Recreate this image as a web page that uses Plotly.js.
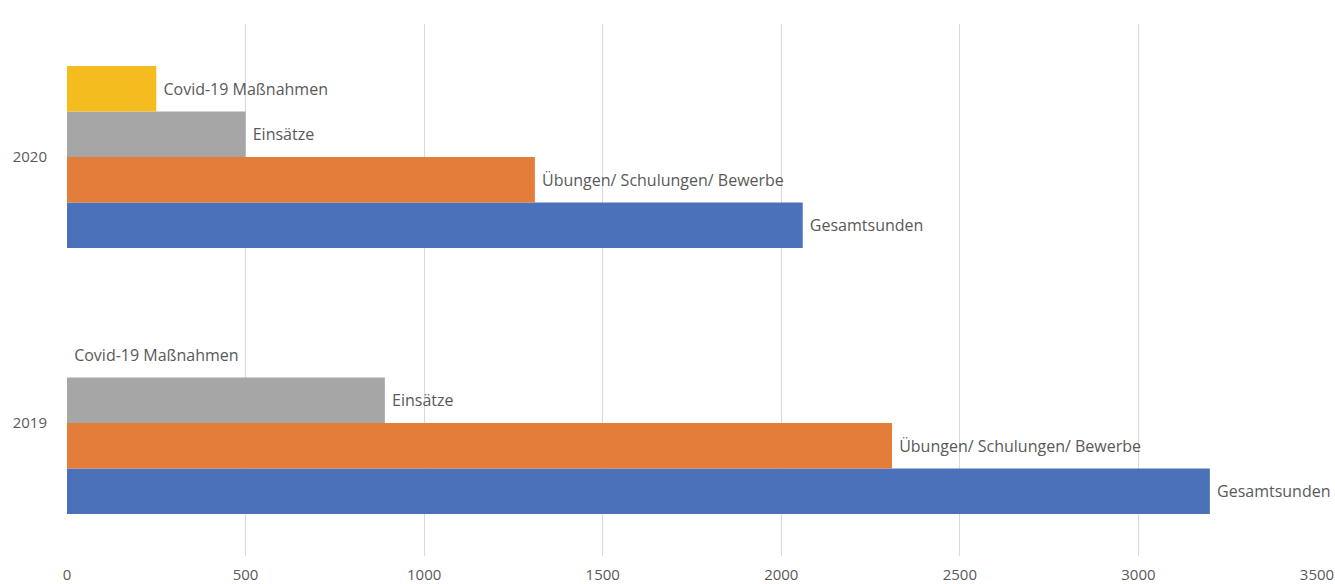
<!DOCTYPE html>
<html>
<head>
<meta charset="utf-8">
<script src="https://cdn.plot.ly/plotly-3.0.1.min.js"></script>
<style>html,body{margin:0;padding:0;background:#fff;}#chart{width:1335px;height:584px;}</style>
</head>
<body>
<div id="chart"></div>
<script>
const years = ['2019', '2020'];
const seriesNames = ['Gesamtsunden', 'Übungen/ Schulungen/ Bewerbe', 'Einsätze', 'Covid-19 Maßnahmen'];
const gesamtstunden = [3200, 2060];
const uebungen = [2310, 1310];
const einsaetze = [890, 500];
const covid = [0, 250];
const xTicks = [0, 500, 1000, 1500, 2000, 2500, 3000, 3500];

const seriesValues = [gesamtstunden, uebungen, einsaetze, covid];
const colors = ['#4A71B9', '#E47C3A', '#A6A6A6', '#F5BC1F'];

const traces = seriesValues.map((vals, i) => ({
  type: 'bar',
  orientation: 'h',
  name: seriesNames[i],
  y: years,
  x: vals,
  text: years.map(() => seriesNames[i]),
  texttemplate: '\u00a0%{text}',
  textposition: 'outside',
  cliponaxis: false,
  textfont: {family: 'Open Sans, sans-serif', size: 16, color: '#595959'},
  marker: {color: colors[i], line: {width: 0}},
  hoverinfo: 'x+name'
}));

const layout = {
  width: 1335,
  height: 584,
  margin: {l: 67, r: 18, t: 24, b: 28},
  paper_bgcolor: '#ffffff',
  plot_bgcolor: '#ffffff',
  showlegend: false,
  barmode: 'group',
  bargap: 0.316,
  bargroupgap: 0,
  font: {family: 'Open Sans, sans-serif', size: 15, color: '#595959'},
  xaxis: {
    range: [0, 3500],
    tickvals: xTicks,
    ticktext: xTicks.map(String),
    showgrid: true,
    gridcolor: '#D9D9D9',
    gridwidth: 1,
    zeroline: false,
    showline: false,
    ticks: 'outside',
    ticklen: 5,
    tickcolor: 'rgba(0,0,0,0)',
    tickfont: {family: 'Open Sans, sans-serif', size: 15, color: '#595959'},
    fixedrange: true
  },
  yaxis: {
    type: 'category',
    categoryorder: 'array',
    categoryarray: years,
    showgrid: false,
    zeroline: false,
    showline: false,
    ticks: 'outside',
    ticklen: 16,
    tickcolor: 'rgba(0,0,0,0)',
    tickfont: {family: 'Open Sans, sans-serif', size: 15, color: '#595959'},
    fixedrange: true
  }
};

Plotly.newPlot('chart', traces, layout, {displayModeBar: false, staticPlot: true});
</script>
</body>
</html>
